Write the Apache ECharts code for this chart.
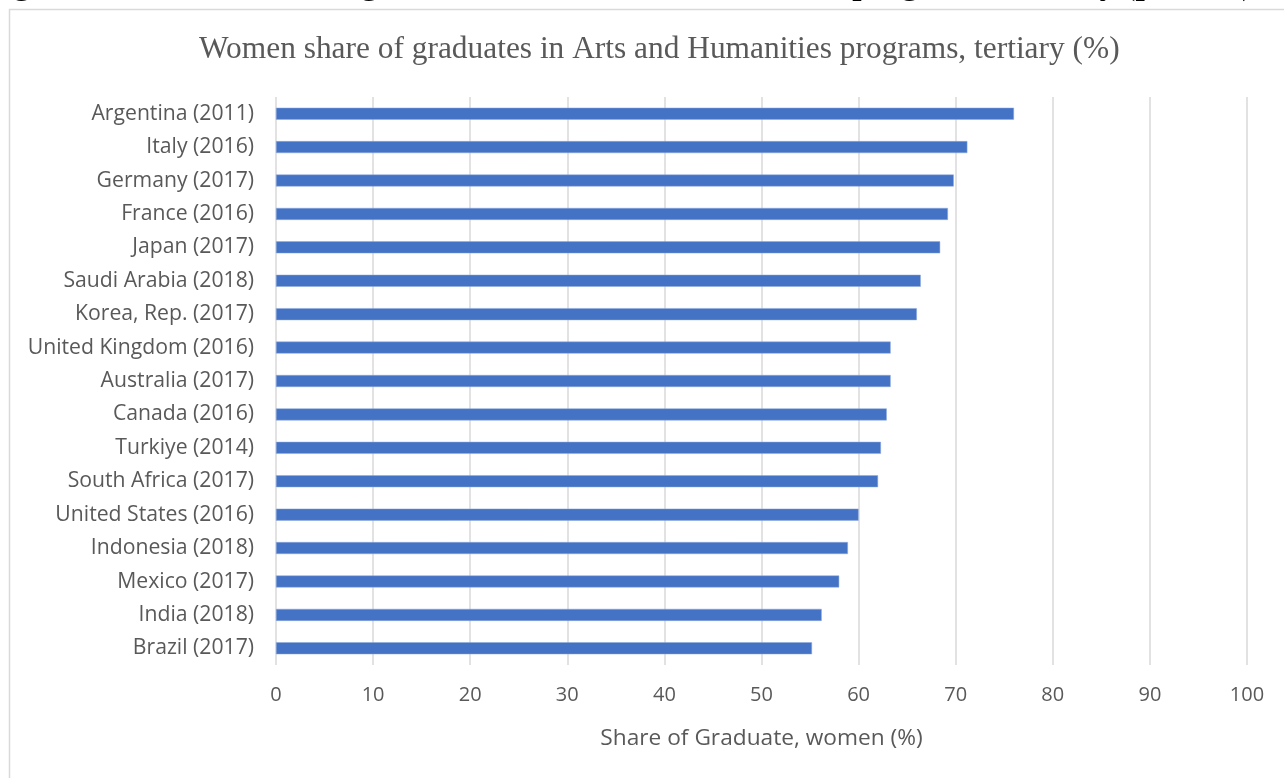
<!DOCTYPE html>
<html>
<head>
<meta charset="utf-8">
<script src="https://cdn.jsdelivr.net/npm/echarts@6/dist/echarts.min.js"></script>
<style>
html,body{margin:0;padding:0;background:#fff;}
#chart{width:1284px;height:778px;}
</style>
</head>
<body>
<div id="chart"></div>
<script>
const categories = [
  "Argentina (2011)", "Italy (2016)", "Germany (2017)", "France (2016)", "Japan (2017)",
  "Saudi Arabia (2018)", "Korea, Rep. (2017)", "United Kingdom (2016)", "Australia (2017)",
  "Canada (2016)", "Turkiye (2014)", "South Africa (2017)", "United States (2016)",
  "Indonesia (2018)", "Mexico (2017)", "India (2018)", "Brazil (2017)"
];
const values = [76.0, 71.2, 69.8, 69.2, 68.4, 66.4, 66.0, 63.3, 63.3, 62.9, 62.3, 62.0, 60.0, 58.9, 58.0, 56.2, 55.2];
const xTicks = [0, 10, 20, 30, 40, 50, 60, 70, 80, 90, 100];
const chartTitle = "Women share of graduates in Arts and Humanities programs, tertiary (%)";
const heading = "Figure 5: Women share of graduates in Arts and Humanities programs, tertiary (percent)";
const xAxisName = "Share of Graduate, women (%)";

const chart = echarts.init(document.getElementById('chart'), null, {renderer: 'canvas'});
chart.setOption({
  backgroundColor: '#ffffff',
  animation: false,
  title: {
    text: chartTitle,
    left: 194,
    top: 29,
    textStyle: {fontFamily: 'Liberation Serif', fontWeight: 'normal', fontSize: 31.4, color: '#595959'}
  },
  graphic: [
    {type: 'rect', shape: {x: 9.5, y: 9.5, width: 1290, height: 800}, style: {fill: 'none', stroke: '#d9d9d9', lineWidth: 1.5}, silent: true},
    {type: 'text', left: -16, top: -31, style: {text: heading, fontFamily: 'Liberation Serif', fontWeight: 'bold', fontSize: 33.3, fill: '#000'}, silent: true}
  ],
  grid: {left: 276, right: 37, top: 97, bottom: 113, containLabel: false},
  xAxis: {
    type: 'value', min: 0, max: 100, interval: 10,
    name: xAxisName, nameLocation: 'middle', nameGap: 62,
    nameTextStyle: {fontFamily: 'Open Sans', fontSize: 22.7, color: '#595959'},
    axisLine: {show: false}, axisTick: {show: false},
    axisLabel: {fontFamily: 'Open Sans', fontSize: 20, color: '#595959', margin: 20,
      formatter: v => xTicks.includes(v) ? String(v) : ''},
    splitLine: {show: true, lineStyle: {color: '#d9d9d9', width: 1.5}}
  },
  yAxis: {
    type: 'category', data: categories, inverse: true,
    axisLine: {show: false}, axisTick: {show: false},
    axisLabel: {fontFamily: 'Open Sans', fontSize: 21.2, color: '#595959', margin: 22},
    splitLine: {show: false}
  },
  series: [{
    type: 'bar', data: values, barWidth: 12,
    itemStyle: {color: '#4472C4', borderColor: '#8faadc', borderWidth: 0.5}
  }]
});
</script>
</body>
</html>
